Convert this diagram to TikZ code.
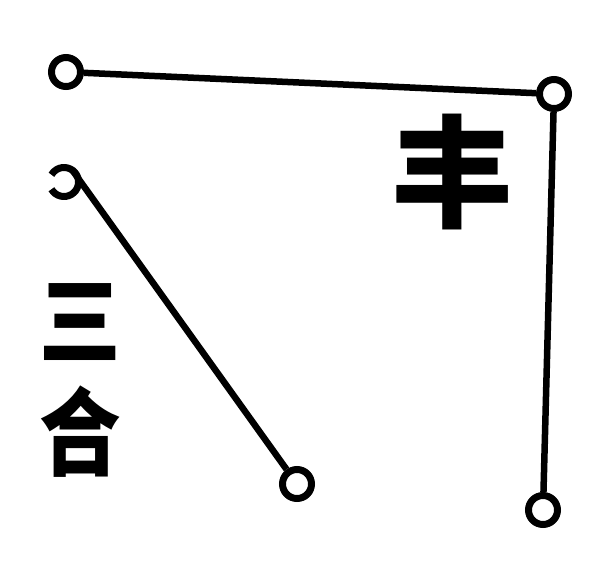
\documentclass[tikz,border=0pt]{standalone}
\usepackage{fontspec}
\newfontfamily\cjk{Noto Sans CJK SC}
\usetikzlibrary{positioning,calc}

\begin{document}
\begin{tikzpicture}[x=1pt,y=-1pt,line width=6.5pt,
    ring/.style={draw,circle,line width=7pt,minimum size=29pt,inner sep=0pt}]
    \useasboundingbox (0,0) rectangle (614,568);
    \node[ring] (topL) at (66,72) {};
    \node[ring] (topR) at (554,94) {};
    \node[ring] (botR) at (543,510) {};
    \node[ring] (botL) at (297,484) {};
    \coordinate (hook) at (64,182);
    % open ring, left side missing
    \draw[line width=7pt] (hook) ++(150:14.5) arc[start angle=150,end angle=-150,radius=14.5];
    \draw (topL) -- (topR);
    \draw (topR) -- (botR);
    \draw ($(hook)+(-55:14.5)$) -- (botL);
    \node[font=\cjk\bfseries\fontsize{122}{122}\selectfont] (feng) at (452,172) {丰};
    \node[font=\cjk\bfseries\fontsize{96}{112}\selectfont,align=center,xscale=0.85] (sanhe) at (80,380) {三\\合};
\end{tikzpicture}
\end{document}
